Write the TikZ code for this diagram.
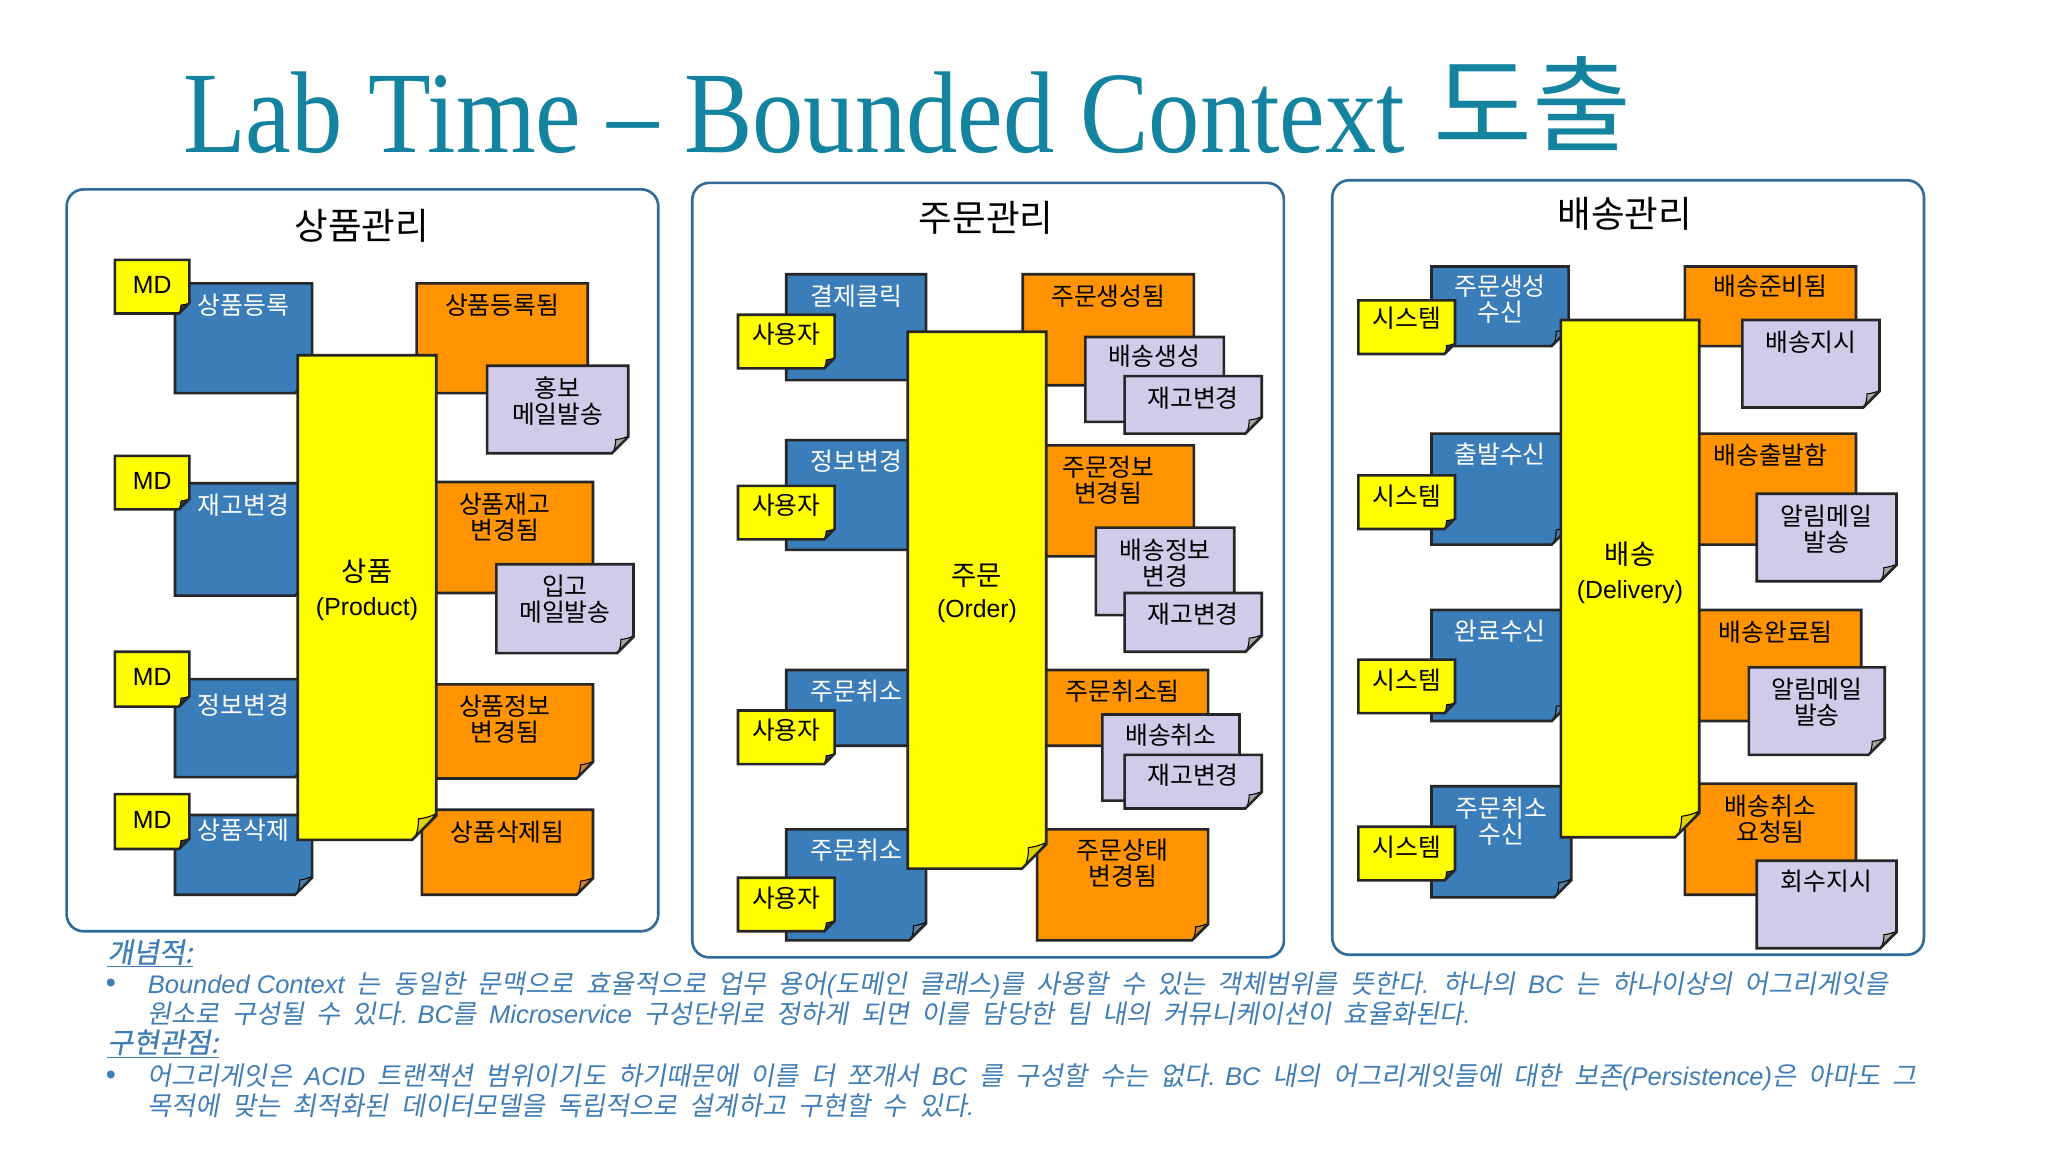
\documentclass[tikz,border=0pt]{standalone}
\usepackage{fontspec}
\setmainfont{Noto Sans CJK KR}
\newfontfamily\latfont{Liberation Sans}
\newfontfamily\titlefont[FakeStretch=0.883]{Liberation Serif}
\newfontfamily\titlekrfont[FakeStretch=1.03]{Noto Sans CJK KR}
\newfontfamily\notefont[FakeSlant=0.18,WordSpace=2.1]{Noto Sans CJK KR}
\newfontfamily\headfont[FakeSlant=0.18,FakeBold=0.6]{Noto Sans CJK KR}
\newcommand{\lat}[1]{{\latfont\fontsize{19}{20}\selectfont #1}}
\newcommand{\latit}[1]{{\latfont\itshape\fontsize{19.5}{23}\selectfont #1}}
\usetikzlibrary{shapes.misc}

\definecolor{cmdblue}{HTML}{3B7DB8}
\definecolor{evtorange}{HTML}{FF9400}
\definecolor{pollilac}{HTML}{CFCBE8}
\definecolor{aggyellow}{HTML}{FFFF00}
\definecolor{framebl}{HTML}{2F6A98}
\definecolor{titleteal}{HTML}{1383A0}
\definecolor{noteblue}{HTML}{3F7DB6}

\tikzset{
	sticky/.style n args={3}{shape=chamfered rectangle,chamfered rectangle corners=south east,
		draw=black!85,line width=2pt,anchor=north west,inner sep=0pt,outer sep=0pt,align=center,
		font=\fontsize{19}{20}\selectfont,text width=#1pt-\flapx pt,
		text height=#3pt+1pt-0.5*\flapy pt,text depth=#2pt-#3pt-1pt-0.5*\flapy pt},
	flap/.style n args={3}{/utils/exec={\def\flapx{#1}\def\flapy{#2}},
		chamfered rectangle xsep=0.5*#1pt,chamfered rectangle ysep=0.5*#2pt,
		path picture={\filldraw[fill=#3,draw=black,line width=.8pt]
			([xshift=-#1pt]path picture bounding box.south east) to[bend right=12]
			([xshift=-0.8*#1pt,yshift=0.8*#2pt]path picture bounding box.south east) to[bend right=8]
			([yshift=#2pt]path picture bounding box.south east) -- cycle;}},
	cmdnote/.style={fill=cmdblue,text=white,flap={12}{14}{cmdblue!70!gray}},
	evtnote/.style={fill=evtorange,flap={12}{13}{orange!60!gray}},
	polnote/.style={fill=pollilac,flap={12}{13}{gray!70}},
	actnote/.style={fill=aggyellow,flap={8}{8}{black!75}},
	aggnote/.style={fill=aggyellow,flap={17}{20}{yellow!70!olive},font=\fontsize{21}{20}\selectfont},
	context/.style={rectangle,rounded corners=13pt,draw=framebl,line width=2pt,fill=white,anchor=north west,inner sep=0pt,outer sep=0pt},
	ctxtitle/.style={font=\fontsize{28}{30}\selectfont,anchor=center,inner sep=0pt},
	noteline/.style={anchor=north west,inner sep=0pt,align=left,text=noteblue,font=\notefont\fontsize{20}{23}\selectfont},
	notehead/.style={anchor=west,inner sep=0pt,text=noteblue,font=\headfont\fontsize{21.5}{23}\selectfont},
	notedot/.style={anchor=center,inner sep=0pt,text=noteblue,font=\latfont\fontsize{22}{22}\selectfont}
}

\begin{document}
\begin{tikzpicture}[x=1pt,y=-1pt]
	\useasboundingbox (0,0) rectangle (1568,882);

	\node[inner sep=0pt,anchor=base west,text=titleteal] (title) at (140,117)
		{\titlefont\fontsize{89}{89}\selectfont Lab Time – Bounded Context};
	\node[inner sep=0pt,anchor=base west,text=titleteal] (titlekr) at (1097,110)
		{\titlekrfont\fontsize{80}{80}\selectfont 도출};

	\node[context,minimum width=453pt,minimum height=568pt] (ctxprod) at (51,145) {};
	\node[context,minimum width=453pt,minimum height=593pt] (ctxorder) at (530,140) {};
	\node[context,minimum width=453pt,minimum height=593pt] (ctxship) at (1020,138) {};
	\node[ctxtitle] (ctxprodname) at (277,173) {상품관리};
	\node[ctxtitle] (ctxordername) at (755,167) {주문관리};
	\node[ctxtitle] (ctxshipname) at (1244,164) {배송관리};

	\node[sticky={105}{84}{23},cmdnote] (cmdprod1) at (134,217) {상품등록};
	\node[sticky={105}{86}{23},cmdnote] (cmdprod2) at (134,370) {재고변경};
	\node[sticky={105}{75}{26},cmdnote] (cmdprod3) at (134,520) {정보변경};
	\node[sticky={105}{61}{18},cmdnote] (cmdprod4) at (134,624) {상품삭제};
	\node[sticky={131}{84}{23},evtnote] (evtprod1) at (319,217) {상품등록됨};
	\node[sticky={135}{85}{23},evtnote] (evtprod2) at (319,369) {상품재고\\변경됨};
	\node[sticky={135}{72}{23},evtnote] (evtprod3) at (319,524) {상품정보\\변경됨};
	\node[sticky={131}{65}{23},evtnote] (evtprod4) at (323,620) {상품삭제됨};
	\node[sticky={108}{67}{23},polnote] (polprod1) at (373,280) {홍보\\메일발송};
	\node[sticky={105}{68}{23},polnote] (polprod2) at (380,432) {입고\\메일발송};
	\node[sticky={106}{371}{172},aggnote] (aggprod) at (228,272) {상품\\[6pt]\lat{(Product)}};
	\node[sticky={57}{41}{25},actnote] (actprod1) at (88,199) {\lat{MD}};
	\node[sticky={57}{41}{25},actnote] (actprod2) at (88,349) {\lat{MD}};
	\node[sticky={57}{42}{25},actnote] (actprod3) at (88,499) {\lat{MD}};
	\node[sticky={57}{42}{25},actnote] (actprod4) at (88,608) {\lat{MD}};

	\node[sticky={107}{81}{23},cmdnote] (cmdorder1) at (602,210) {결제클릭};
	\node[sticky={107}{84}{22},cmdnote] (cmdorder2) at (602,337) {정보변경};
	\node[sticky={107}{58}{22},cmdnote] (cmdorder3) at (602,513) {주문취소};
	\node[sticky={107}{85}{22},cmdnote] (cmdorder4) at (602,635) {주문취소};
	\node[sticky={131}{85}{23},evtnote] (evtorder1) at (783,210) {주문생성됨};
	\node[sticky={131}{85}{23},evtnote] (evtorder2) at (783,341) {주문정보\\변경됨};
	\node[sticky={131}{58}{22},evtnote] (evtorder3) at (794,513) {주문취소됨};
	\node[sticky={131}{85}{22},evtnote] (evtorder4) at (794,635) {주문상태\\변경됨};
	\node[sticky={106}{65}{21},polnote] (polorder1) at (831,258) {배송생성};
	\node[sticky={105}{44}{23},polnote] (polorder2) at (861,288) {재고변경};
	\node[sticky={106}{67}{23},polnote] (polorder3) at (839,404) {배송정보\\변경};
	\node[sticky={105}{45}{22},polnote] (polorder4) at (861,454) {재고변경};
	\node[sticky={105}{66}{22},polnote] (polorder5) at (844,547) {배송취소};
	\node[sticky={105}{41}{22},polnote] (polorder6) at (861,578) {재고변경};
	\node[sticky={106}{411}{193},aggnote] (aggorder) at (695,254) {주문\\[5pt]\lat{(Order)}};
	\node[sticky={74}{41}{21},actnote] (actorder1) at (565,241) {사용자};
	\node[sticky={74}{41}{21},actnote] (actorder2) at (565,372) {사용자};
	\node[sticky={74}{41}{21},actnote] (actorder3) at (565,544) {사용자};
	\node[sticky={74}{41}{22},actnote] (actorder4) at (565,672) {사용자};

	\node[sticky={105}{61}{21},cmdnote] (cmdship1) at (1096,204) {주문생성\\수신};
	\node[sticky={105}{85}{22},cmdnote] (cmdship2) at (1096,332) {출발수신};
	\node[sticky={105}{85}{22},cmdnote] (cmdship3) at (1096,467) {완료수신};
	\node[sticky={107}{85}{23},cmdnote] (cmdship4) at (1096,602) {주문취소\\수신};
	\node[sticky={131}{61}{21},evtnote] (evtship1) at (1290,204) {배송준비됨};
	\node[sticky={131}{85}{23},evtnote] (evtship2) at (1290,332) {배송출발함};
	\node[sticky={131}{85}{23},evtnote] (evtship3) at (1294,467) {배송완료됨};
	\node[sticky={131}{85}{23},evtnote] (evtship4) at (1290,600) {배송취소\\요청됨};
	\node[sticky={105}{67}{23},polnote] (polship1) at (1334,245) {배송지시};
	\node[sticky={107}{67}{23},polnote] (polship2) at (1345,378) {알림메일\\발송};
	\node[sticky={104}{67}{23},polnote] (polship3) at (1339,511) {알림메일\\발송};
	\node[sticky={107}{67}{22},polnote] (polship4) at (1345,659) {회수지시};
	\node[sticky={106}{396}{186},aggnote] (aggship) at (1195,245) {배송\\[6pt]\lat{(Delivery)}};
	\node[sticky={74}{41}{20},actnote] (actship1) at (1040,230) {시스템};
	\node[sticky={74}{41}{22},actnote] (actship2) at (1040,364) {시스템};
	\node[sticky={74}{41}{22},actnote] (actship3) at (1040,505) {시스템};
	\node[sticky={74}{41}{22},actnote] (actship4) at (1040,633) {시스템};

	\node[notehead] (headconcept) at (82,730) {\underline{개념적:}};
	\node[notedot] (dotconcept) at (85,755) {•};
	\node[noteline] (textconcept) at (113,744)
		{\latit{Bounded Context} 는 동일한 문맥으로 효율적으로 업무 용어\latit{(}도메인 클래스\latit{)}를 사용할 수 있는 객체범위를 뜻한다\latit{.} 하나의 \latit{BC} 는 하나이상의 어그리게잇을\\
		원소로 구성될 수 있다\latit{. BC}를 \latit{Microservice} 구성단위로 정하게 되면 이를 담당한 팀 내의 커뮤니케이션이 효율화된다\latit{.}};
	\node[notehead] (headimpl) at (82,799) {\underline{구현관점:}};
	\node[notedot] (dotimpl) at (85,825) {•};
	\node[noteline] (textimpl) at (113,814)
		{어그리게잇은 \latit{ACID} 트랜잭션 범위이기도 하기때문에 이를 더 쪼개서 \latit{BC} 를 구성할 수는 없다\latit{. BC} 내의 어그리게잇들에 대한 보존\latit{(Persistence)}은 아마도 그\\
		목적에 맞는 최적화된 데이터모델을 독립적으로 설계하고 구현할 수 있다\latit{.}};
\end{tikzpicture}
\end{document}
